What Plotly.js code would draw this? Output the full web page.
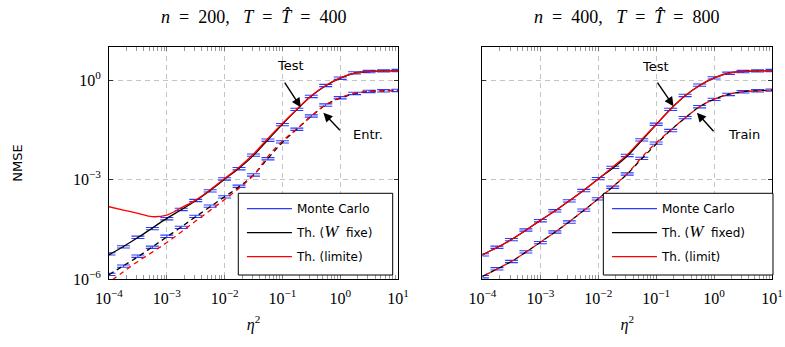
<!DOCTYPE html>
<html><head><meta charset="utf-8">
<script src="https://cdn.plot.ly/plotly-3.0.1.min.js"></script>
<style>html,body{margin:0;padding:0;background:#fff}</style>
</head><body>
<div id="chart" style="width:785px;height:347px"></div>
<script>
// eta^2 sample grid (log10), shared by theory curves and Monte Carlo points
const etaLog10 = [-4,-3.75,-3.5,-3.25,-3,-2.75,-2.5,-2.25,-2,-1.75,-1.5,-1.25,-1,-0.75,-0.5,-0.25,0,0.25,0.5,0.75,1];

// ---- left panel : n = 200, T = T^ = 400   (values are log10(NMSE))
const leftTestFixedLog10  = [-5.27,-5.02,-4.75,-4.46,-4.17,-3.91,-3.64,-3.33,-2.99,-2.66,-2.27,-1.80,-1.33,-0.89,-0.48,-0.17,0.06,0.21,0.26,0.28,0.29];
const leftTestLimitLog10  = [-3.82,-3.92,-4.02,-4.12,-4.07,-3.85,-3.62,-3.31,-2.97,-2.63,-2.23,-1.76,-1.31,-0.88,-0.47,-0.16,0.07,0.21,0.26,0.28,0.29];
const leftTrainFixedLog10 = [-5.87,-5.60,-5.33,-5.03,-4.73,-4.43,-4.12,-3.82,-3.52,-3.22,-2.86,-2.36,-1.88,-1.48,-1.09,-0.75,-0.54,-0.41,-0.34,-0.32,-0.31];
const leftTrainLimitLog10 = [-6.10,-5.78,-5.47,-5.19,-4.90,-4.58,-4.25,-3.93,-3.60,-3.26,-2.87,-2.30,-1.84,-1.47,-1.08,-0.74,-0.53,-0.40,-0.34,-0.32,-0.31];
const leftTestMCLog10     = [-5.24,-5.03,-4.74,-4.48,-4.18,-3.90,-3.63,-3.34,-2.98,-2.67,-2.26,-1.81,-1.34,-0.88,-0.49,-0.16,0.06,0.22,0.26,0.28,0.29];
const leftTrainMCLog10    = [-5.86,-5.61,-5.31,-5.04,-4.71,-4.44,-4.11,-3.80,-3.52,-3.20,-2.86,-2.37,-1.86,-1.48,-1.08,-0.75,-0.53,-0.40,-0.34,-0.32,-0.31];

// ---- right panel : n = 400, T = T^ = 800
const rightTestFixedLog10  = [-5.27,-5.05,-4.81,-4.53,-4.23,-3.95,-3.64,-3.32,-2.98,-2.66,-2.29,-1.82,-1.34,-0.87,-0.47,-0.16,0.07,0.21,0.26,0.28,0.29];
const rightTestLimitLog10  = [-5.27,-5.05,-4.81,-4.53,-4.23,-3.95,-3.64,-3.32,-2.98,-2.62,-2.25,-1.79,-1.34,-0.87,-0.47,-0.16,0.07,0.21,0.26,0.28,0.29];
const rightTrainFixedLog10 = [-5.92,-5.70,-5.47,-5.19,-4.89,-4.59,-4.27,-3.93,-3.58,-3.22,-2.83,-2.37,-1.93,-1.51,-1.14,-0.80,-0.58,-0.43,-0.35,-0.32,-0.30];
const rightTrainLimitLog10 = [-5.92,-5.70,-5.47,-5.19,-4.89,-4.59,-4.27,-3.93,-3.58,-3.22,-2.82,-2.33,-1.89,-1.51,-1.14,-0.80,-0.58,-0.43,-0.35,-0.32,-0.30];
const rightTestMCLog10     = [-5.27,-5.04,-4.81,-4.52,-4.24,-3.94,-3.64,-3.33,-2.97,-2.63,-2.27,-1.80,-1.33,-0.88,-0.46,-0.15,0.07,0.21,0.26,0.28,0.29];
const rightTrainMCLog10    = [-5.93,-5.69,-5.47,-5.18,-4.90,-4.58,-4.28,-3.92,-3.58,-3.23,-2.83,-2.36,-1.90,-1.52,-1.13,-0.80,-0.58,-0.43,-0.35,-0.32,-0.30];

// ticks and texts
const xTickVals = [1e-4,1e-3,1e-2,1e-1,1,10];
const xTickText = ['10<sup>−4</sup>','10<sup>−3</sup>','10<sup>−2</sup>','10<sup>−1</sup>','10<sup>0</sup>','10<sup>1</sup>'];
const yTickVals = [1e-6,1e-3,1];
const yTickText = ['10<sup>−6</sup>','10<sup>−3</sup>','10<sup>0</sup>'];
const SP = '\u00a0', EN = '\u2002';
const panelTitles = [
  '<i>n</i>' + EN + '=' + EN + '200,' + EN + SP + '<i>T</i>' + EN + '=' + EN + '<i>T\u0302</i>' + EN + '=' + EN + '400',
  '<i>n</i>' + EN + '=' + EN + '400,' + EN + SP + '<i>T</i>' + EN + '=' + EN + '<i>T\u0302</i>' + EN + '=' + EN + '800'];
const W_MATH = '<span style="font-family:\'Liberation Serif\';font-style:italic;font-size:17px">W</span>';
const legendLeft  = ['Monte Carlo', 'Th. (' + W_MATH + SP + ' fixe)', 'Th. (limite)'];
const legendRight = ['Monte Carlo', 'Th. (' + W_MATH + SP + ' fixed)', 'Th. (limit)'];
const labelsLeft  = ['Test', 'Entr.'];
const labelsRight = ['Test', 'Train'];
const mcRelErrPct = 8;

const BLUE = 'rgb(45,60,255)', RED = '#ff0000', BLACK = '#000000';
const pow10 = a => a.map(v => Math.pow(10, v));
const eta = pow10(etaLog10);

function panelTraces(xa, ya, lg, d, names) {
  const t = [];
  const mc = (y) => ({x: eta, y: pow10(y), xaxis: xa, yaxis: ya, mode: 'markers', type: 'scatter',
    marker: {size: 1, color: 'rgba(0,0,0,0)'}, showlegend: false, hoverinfo: 'skip',
    error_y: {type: 'percent', value: mcRelErrPct, width: 6.5, thickness: 1.1, color: BLUE}});
  t.push(mc(d.testMC)); t.push(mc(d.trainMC));
  t.push({x: [null], y: [null], xaxis: xa, yaxis: ya, mode: 'lines', line: {color: BLUE, width: 1.1},
    name: names[0], legend: lg, legendgroup: lg + 'mc', legendrank: 1});
  const line = (y, color, dash, name, show, grp, rank) => ({x: eta, y: pow10(y), xaxis: xa, yaxis: ya, mode: 'lines', type: 'scatter',
    line: {color: color, width: 1.3, dash: dash, shape: 'spline', smoothing: 1}, name: name, showlegend: show,
    legend: lg, legendgroup: grp, legendrank: rank});
  t.push(line(d.testFixed, BLACK, 'solid', names[1], true, lg + 'fx', 2));
  t.push(line(d.trainFixed, BLACK, '5px,4px', names[1], false, lg + 'fx', 2));
  t.push(line(d.testLimit, RED, 'solid', names[2], true, lg + 'lm', 3));
  t.push(line(d.trainLimit, RED, '0px,4px,5px,0px', names[2], false, lg + 'lm', 3));
  return t;
}

const data = [].concat(
  panelTraces('x', 'y', 'legend', {testFixed: leftTestFixedLog10, testLimit: leftTestLimitLog10, trainFixed: leftTrainFixedLog10,
    trainLimit: leftTrainLimitLog10, testMC: leftTestMCLog10, trainMC: leftTrainMCLog10}, legendLeft),
  panelTraces('x2', 'y2', 'legend2', {testFixed: rightTestFixedLog10, testLimit: rightTestLimitLog10, trainFixed: rightTrainFixedLog10,
    trainLimit: rightTrainLimitLog10, testMC: rightTestMCLog10, trainMC: rightTrainMCLog10}, legendRight)
);

const SERIF = 'Liberation Serif', SANS = 'DejaVu Sans';
function xAxis(domain, anchor) {
  return {type: 'log', domain: domain, anchor: anchor, range: [-4, 1], showline: true, mirror: 'allticks', linecolor: '#000', linewidth: 1,
    ticks: 'inside', ticklen: 4, tickcolor: '#777', tickwidth: 1, tickvals: xTickVals, ticktext: xTickText,
    tickfont: {family: SERIF, size: 16, color: '#000'}, showgrid: true, gridcolor: '#c4c4c4', griddash: '5px,4px', gridwidth: 1,
    zeroline: false, ticklabelstandoff: 5, minor: {ticks: 'inside', ticklen: 4, tickcolor: '#999', dtick: 'D1', showgrid: false},
    title: {text: '<i>η</i><sup>2</sup>', font: {family: SERIF, size: 16, color: '#000'}, standoff: 12}};
}
function yAxis(anchor, labels) {
  return {type: 'log', domain: [0, 1], anchor: anchor, range: [-6, 1], showline: true, mirror: 'allticks', linecolor: '#000', linewidth: 1,
    ticks: 'inside', ticklen: 4, tickcolor: '#333', tickvals: yTickVals, ticktext: yTickText, showticklabels: labels,
    tickfont: {family: SERIF, size: 16, color: '#000'}, showgrid: true, gridcolor: '#c4c4c4', griddash: '5px,4px', gridwidth: 1,
    zeroline: false, ticklabelstandoff: 4,
    title: labels ? {text: 'NMSE', font: {family: SANS, size: 13, color: '#000'}, standoff: 47} : {text: ''}};
}
const legendStyle = (x) => ({x: x, y: 0.366, xanchor: 'left', yanchor: 'top', bgcolor: 'rgba(0,0,0,0)', borderwidth: 0,
  font: {family: SANS, size: 12, color: '#000'}, traceorder: 'grouped', tracegroupgap: 5, itemwidth: 45});
const legendBox = (x0, x1) => ({type: 'rect', xref: 'paper', yref: 'paper', x0: x0, x1: x1, y0: 0.0172, y1: 0.3694,
  layer: 'above', fillcolor: '#fff', line: {color: '#000', width: 1}});

const txt = (xr, yr, x, y, text) => ({xref: xr, yref: yr, x: x, y: y, text: text, showarrow: false,
  font: {family: SANS, size: 13, color: '#000'}});
const arr = (xr, yr, x, y, ax, ay) => ({xref: xr, yref: yr, x: x, y: y, text: '', showarrow: true, ax: ax, ay: ay,
  arrowhead: 2, arrowsize: 1.3, arrowwidth: 1.4, arrowcolor: '#000', standoff: 0});

const layout = {
  width: 785, height: 347, margin: {l: 109, r: 13, t: 47, b: 68}, paper_bgcolor: '#fff', plot_bgcolor: '#fff',
  showlegend: true,
  xaxis: xAxis([0, 0.4359], 'y'), yaxis: yAxis('x', true),
  xaxis2: xAxis([0.5633, 1], 'y2'), yaxis2: yAxis('x2', false),
  legend: legendStyle(0.2005), legend2: legendStyle(0.7511),
  shapes: [legendBox(0.1950, 0.4279), legendBox(0.7456, 1.0015)],
  annotations: [
    {xref: 'x domain', yref: 'paper', x: 0.5, y: 1.129, yanchor: 'middle', text: panelTitles[0], showarrow: false, font: {family: SERIF, size: 18, color: '#000'}},
    {xref: 'x2 domain', yref: 'paper', x: 0.5, y: 1.129, yanchor: 'middle', text: panelTitles[1], showarrow: false, font: {family: SERIF, size: 18, color: '#000'}},
    txt('x', 'y', -0.868, 0.444, labelsLeft[0]), arr('x', 'y', -0.683, -0.816, -17, -26),
    txt('x', 'y', 0.487, -1.64, labelsLeft[1]), arr('x', 'y', -0.291, -0.985, 18, 19),
    txt('x2', 'y2', -1.017, 0.42, labelsRight[0]), arr('x2', 'y2', -0.701, -0.785, -17, -25),
    txt('x2', 'y2', 0.508, -1.64, labelsRight[1]), arr('x2', 'y2', -0.297, -0.985, 18, 20)
  ]
};
Plotly.newPlot('chart', data, layout, {staticPlot: true, displayModeBar: false});
</script>
</body></html>
